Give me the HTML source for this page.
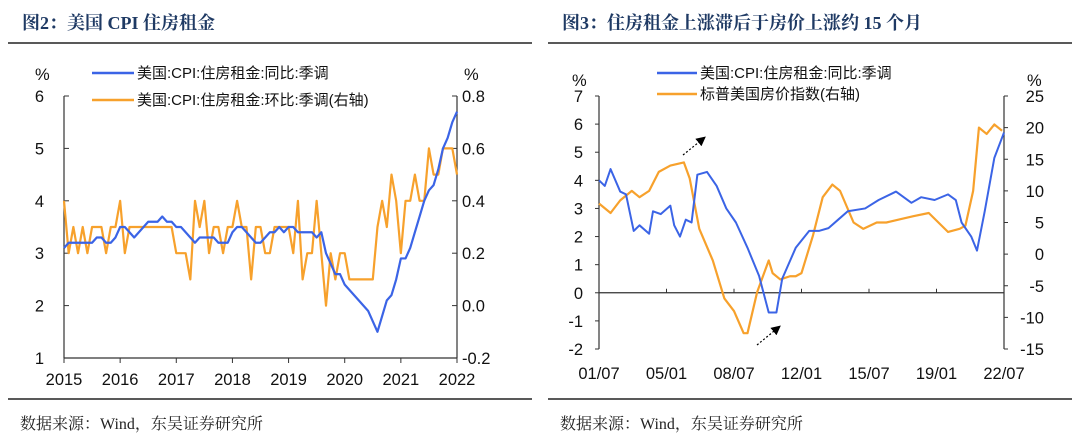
<!DOCTYPE html>
<html><head><meta charset="utf-8"><style>
html,body{margin:0;padding:0;background:#fff;width:1080px;height:447px;overflow:hidden}
svg{display:block}
text{font-family:"Liberation Sans","Noto Sans CJK SC",sans-serif;fill:#111}
.ttl{font-family:"Liberation Serif","Noto Serif CJK SC",serif;font-weight:bold;fill:#1f3a64;font-size:18px}
.src{font-family:"Liberation Serif","Noto Serif CJK SC",serif;font-size:16px;fill:#222}
.tk{font-size:16.5px}
.lg{font-size:15px}
</style></head><body>
<svg id="s" width="1080" height="447">
<defs><marker id="ah" markerWidth="8" markerHeight="8" refX="6" refY="4" orient="auto"><path d="M0,0 L8,4 L0,8 z" fill="#000"/></marker></defs>
</svg>
<script>
// ---- Chart 1 data (monthly 2015-01 .. 2022-01) ----
const c1Years=["2015","2016","2017","2018","2019","2020","2021","2022"];
const c1LeftTicks=[1,2,3,4,5,6];
const c1RightTicks=["-0.2","0.0","0.2","0.4","0.6","0.8"];
const c1Yoy=[3.1,3.2,3.2,3.2,3.2,3.2,3.2,3.3,3.3,3.2,3.2,3.3,
3.5,3.5,3.4,3.3,3.4,3.5,3.6,3.6,3.6,3.7,3.6,3.6,
3.5,3.5,3.4,3.3,3.2,3.3,3.3,3.3,3.3,3.2,3.2,3.2,
3.4,3.5,3.5,3.4,3.3,3.2,3.2,3.3,3.4,3.4,3.5,3.4,
3.5,3.5,3.4,3.4,3.4,3.4,3.3,3.4,3.0,2.8,2.6,2.6,
2.4,2.3,2.2,2.1,2.0,1.9,1.7,1.5,1.8,2.1,2.2,2.5,
2.9,2.9,3.1,3.4,3.7,4.0,4.2,4.3,4.6,5.0,5.2,5.5,5.7];
const c1Mom=[0.4,0.2,0.3,0.2,0.3,0.2,0.3,0.3,0.3,0.2,0.3,0.3,
0.4,0.2,0.3,0.3,0.3,0.3,0.3,0.3,0.3,0.3,0.3,0.3,
0.2,0.2,0.2,0.1,0.4,0.3,0.4,0.2,0.3,0.3,0.2,0.3,
0.3,0.4,0.3,0.3,0.1,0.3,0.3,0.2,0.2,0.3,0.3,0.3,
0.3,0.2,0.4,0.1,0.2,0.2,0.4,0.2,0.0,0.2,0.1,0.2,
0.2,0.1,0.1,0.1,0.1,0.1,0.1,0.3,0.4,0.3,0.5,0.4,
0.2,0.4,0.4,0.5,0.4,0.4,0.6,0.5,0.5,0.6,0.6,0.6,0.5];
// ---- Chart 2 data ----
const c2Labels=["01/07","05/01","08/07","12/01","15/07","19/01","22/07"];
const c2LabelT=[2001.5,2005,2008.5,2012,2015.5,2019,2022.5];
const c2LeftTicks=[-2,-1,0,1,2,3,4,5,6,7];
const c2RightTicks=[-15,-10,-5,0,5,10,15,20,25];
const c2RentT=[2001.5,2001.8,2002.1,2002.6,2002.9,2003.3,2003.6,2004.1,2004.3,2004.7,2005.2,2005.4,2005.7,2006.0,2006.3,2006.6,2007.1,2007.6,2008.1,2008.6,2009.2,2009.8,2010.3,2010.7,2011.0,2011.7,2012.4,2012.9,2013.4,2013.9,2014.4,2015.3,2016.0,2016.9,2017.7,2018.2,2018.9,2019.6,2020.0,2020.3,2020.8,2021.1,2021.5,2022.0,2022.5];
const c2Rent=[4.0,3.8,4.4,3.6,3.5,2.2,2.4,2.1,2.9,2.8,3.1,2.4,2.0,2.6,2.5,4.2,4.3,3.8,3.0,2.5,1.6,0.6,-0.7,-0.7,0.5,1.6,2.2,2.2,2.3,2.6,2.9,3.0,3.3,3.6,3.2,3.4,3.3,3.5,3.3,2.5,2.0,1.5,2.9,4.8,5.7];
const c2HpiT=[2001.5,2002.1,2002.6,2003.2,2003.6,2004.1,2004.6,2005.2,2005.9,2006.2,2006.7,2007.4,2008.0,2008.5,2009.0,2009.2,2009.7,2010.3,2010.5,2010.9,2011.4,2011.7,2012.0,2012.6,2013.1,2013.6,2014.0,2014.7,2015.2,2015.9,2016.4,2017.1,2017.8,2018.6,2019.1,2019.6,2020.2,2020.5,2020.9,2021.2,2021.6,2022.0,2022.4];
const c2Hpi=[8,6.5,8.5,10,9,10,13,14,14.5,12,4,-1,-7,-9,-12.5,-12.5,-6,-1,-3,-4,-3.5,-3.5,-3,3,9,11,10,5,4,5,5,5.5,6,6.5,5,3.5,4,4.5,10,20,19,20.5,19.5];

const S=document.getElementById('s');const NS='http://www.w3.org/2000/svg';
function el(tag,at,txt){const e=document.createElementNS(NS,tag);for(const k in at)e.setAttribute(k,at[k]);if(txt!==undefined)e.textContent=txt;S.appendChild(e);return e;}

[[0,'图2：美国 CPI 住房租金'],[540,'图3：住房租金上涨滞后于房价上涨约 15 个月']].forEach(([ox,t],i)=>{
 const a=el('text',{x:ox+22,y:29,class:'ttl'},t);
 
 
 const l1=el('line',{x1:ox+8,x2:ox+532,y1:43,y2:43,stroke:'#222','stroke-width':1.5});
 
 
 const l2=el('line',{x1:ox+8,x2:ox+532,y1:399,y2:399,stroke:'#222','stroke-width':1.5});
 
 
 const s=el('text',{x:ox+20,y:429,class:'src'},'数据来源：Wind，东吴证券研究所');
 
 
});

// ---- chart 1 ----
const X0=64,X1=457,YT=96,YB=358;
const x1=i=>X0+(X1-X0)*i/84;
const yl1=v=>YB-(v-1)/5*(YB-YT);
const yr1=v=>YB-(v+0.2)/1.0*(YB-YT);
let a=el('line',{x1:X0,x2:X0,y1:YT,y2:YB,stroke:'#333','stroke-width':1.2});
a=el('line',{x1:X1,x2:X1,y1:YT,y2:YB,stroke:'#333','stroke-width':1.2});
a=el('line',{x1:X0,x2:X1,y1:YB,y2:YB,stroke:'#333','stroke-width':1.2});
c1LeftTicks.forEach(v=>{const y=yl1(v);el('line',{x1:X0,x2:X0+5,y1:y,y2:y,stroke:'#333'});
 const t=el('text',{x:44,y:y+6,class:'tk','text-anchor':'end'},v);});
c1RightTicks.forEach((v,i)=>{const y=YB-i/5*(YB-YT);el('line',{x1:X1-5,x2:X1,y1:y,y2:y,stroke:'#333'});
 const t=el('text',{x:462,y:y+6,class:'tk'},v);});
c1Years.forEach((v,i)=>{const x=x1(i*12);el('line',{x1:x,x2:x,y1:YB,y2:YB+5,stroke:'#333'});
 const t=el('text',{x:x,y:385,class:'tk','text-anchor':'middle'},v);});
a=el('text',{x:35,y:80,class:'tk'},'%');
a=el('text',{x:464,y:80,class:'tk'},'%');
a=el('polyline',{points:c1Mom.map((v,i)=>x1(i)+','+yr1(v)).join(' '),fill:'none',stroke:'#f7a12c','stroke-width':2.2,'stroke-linejoin':'round'});

a=el('polyline',{points:c1Yoy.map((v,i)=>x1(i)+','+yl1(v)).join(' '),fill:'none',stroke:'#3b64e6','stroke-width':2.2,'stroke-linejoin':'round'});

el('line',{x1:92,x2:134,y1:73,y2:73,stroke:'#3b64e6','stroke-width':2.5});
a=el('text',{x:137,y:78,class:'lg'},'美国:CPI:住房租金:同比:季调');
el('line',{x1:92,x2:134,y1:100,y2:100,stroke:'#f7a12c','stroke-width':2.5});
a=el('text',{x:137,y:105,class:'lg'},'美国:CPI:住房租金:环比:季调(右轴)');

// ---- chart 2 ----
const U0=599,U1=1004,VT=96,VB=349;
const x2=t=>U0+(t-2001.5)/21*(U1-U0);
const yl2=v=>VB-(v+2)/9*(VB-VT);
const yr2=v=>VB-(v+15)/40*(VB-VT);
a=el('line',{x1:U0,x2:U0,y1:VT,y2:VB,stroke:'#333','stroke-width':1.2});
a=el('line',{x1:U1,x2:U1,y1:VT,y2:VB,stroke:'#333','stroke-width':1.2});
a=el('line',{x1:U0,x2:U1,y1:yl2(0),y2:yl2(0),stroke:'#333','stroke-width':1.2});
c2LeftTicks.forEach(v=>{const y=yl2(v);el('line',{x1:U0-4,x2:U0,y1:y,y2:y,stroke:'#333'});
 const t=el('text',{x:583,y:y+6,class:'tk','text-anchor':'end'},v);});
c2RightTicks.forEach(v=>{const y=yr2(v);el('line',{x1:U1,x2:U1+4,y1:y,y2:y,stroke:'#333'});
 const t=el('text',{x:1044,y:y+6,class:'tk','text-anchor':'end'},v);});
c2Labels.forEach((v,i)=>{const x=x2(c2LabelT[i]);el('line',{x1:x,x2:x,y1:yl2(0),y2:yl2(0)-4,stroke:'#333'});
 const t=el('text',{x:x,y:379,class:'tk','text-anchor':'middle'},v);});
a=el('text',{x:572,y:86,class:'tk'},'%');
a=el('text',{x:1027,y:86,class:'tk'},'%');
a=el('polyline',{points:c2Hpi.map((v,i)=>x2(c2HpiT[i])+','+yr2(v)).join(' '),fill:'none',stroke:'#f7a12c','stroke-width':2.2,'stroke-linejoin':'round'});

a=el('polyline',{points:c2Rent.map((v,i)=>x2(c2RentT[i])+','+yl2(v)).join(' '),fill:'none',stroke:'#3b64e6','stroke-width':2,'stroke-linejoin':'round'});

el('line',{x1:657,x2:697,y1:73,y2:73,stroke:'#3b64e6','stroke-width':2.5});
a=el('text',{x:700,y:78,class:'lg'},'美国:CPI:住房租金:同比:季调');
el('line',{x1:657,x2:697,y1:94,y2:94,stroke:'#f7a12c','stroke-width':2.5});
a=el('text',{x:700,y:99,class:'lg'},'标普美国房价指数(右轴)');
a=el('line',{x1:683,y1:155,x2:704,y2:138,stroke:'#000','stroke-width':1.2,'stroke-dasharray':'2,2','marker-end':'url(#ah)'});
a=el('line',{x1:757,y1:345,x2:779,y2:327,stroke:'#000','stroke-width':1.2,'stroke-dasharray':'2,2','marker-end':'url(#ah)'});
</script>
</body></html>
